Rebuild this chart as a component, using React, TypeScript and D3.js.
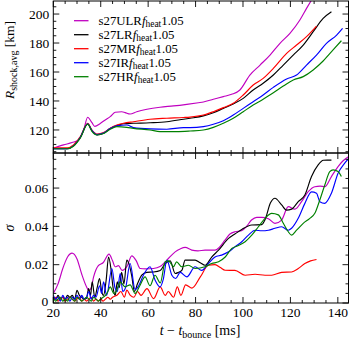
import React from "react";
import * as d3 from "d3";

// ---------- data ----------
const seriesNames = ["s27ULR", "s27LR", "s27MR", "s27IR", "s27HR"];
const seriesColors = ["#c000c0", "#000000", "#ff0000", "#0000ff", "#008000"];

const xTicks = [20, 40, 60, 80, 100, 120, 140];
const rTicks = [120, 140, 160, 180, 200];
const sTicks = [0, 0.02, 0.04, 0.06];
const sTickLabels = ["0", "0.02", "0.04", "0.06"];

// Shock radius [t, R]
const rULR: [number, number][] = [
  [20, 107.4], [24.3, 109.7], [27.9, 111.3], [30.7, 113.1], [32.8, 120], [34.5, 128.8], [36.3, 125],
  [37.5, 122.5], [39.8, 124.5], [41.9, 126.9], [44, 129.2], [46.1, 132.2], [48.9, 132.6], [50.3, 132],
  [52.4, 131], [55.2, 132.6], [59.5, 134.3], [65, 135.7], [70.7, 136.6], [76.3, 137.7], [81.2, 138.8],
  [83.3, 139.3], [87.5, 141.2], [91.7, 143], [95.2, 144.6], [98.7, 147.6], [102.9, 157.9], [107.2, 164.8],
  [111.4, 171.7], [115.6, 179.8], [119.8, 186.7], [124, 195.9], [126.8, 203.9], [129.2, 210.5],
];
const rLR: [number, number][] = [
  [20, 107], [25.8, 107], [28.5, 109], [31.4, 115], [34.5, 124.1], [36.3, 119.5], [38.4, 116.6],
  [41.2, 117.8], [44, 121], [46.8, 123], [49.6, 124.3], [53.8, 124.6], [60.8, 125], [67.9, 125.7],
  [74.9, 127.4], [77.7, 128.1], [83.3, 129.7], [87.5, 131.9], [91.7, 134.9], [95.9, 137.9], [100.1, 141.8],
  [104.3, 147.6], [108.5, 152.2], [112.8, 157.9], [117, 164.8], [121.2, 171.7], [125.4, 178.6],
  [129.6, 187.8], [133.8, 197], [137.3, 201.6],
];
const rMR: [number, number][] = [
  [20, 107.6], [25.8, 107.6], [28.5, 109.7], [31.4, 115.4], [34.5, 124.6], [36.3, 120], [38.4, 117.2],
  [41.2, 118.2], [44, 121.2], [46.8, 123.4], [49.6, 124.6], [53.8, 125.7], [60.8, 127.4], [67.9, 128.1],
  [74.9, 128.6], [77.7, 128.9], [83.3, 130.3], [87.5, 132.6], [91.7, 135.4], [95.9, 138.4], [100.1, 144.1],
  [104.3, 151], [108.5, 155.6], [112.8, 162.5], [118.4, 172.9], [122.6, 178.6], [126.8, 184.4], [131, 191.7],
];
const rIR: [number, number][] = [
  [20, 107], [25.8, 107], [28.5, 109], [31.4, 115], [34.5, 124.3], [36.3, 119.5], [38.4, 116.8],
  [41.2, 117.8], [44, 121], [46.8, 122.8], [51, 123.4], [53.8, 121.6], [60.8, 120.7], [67.9, 120.5],
  [74.9, 121.6], [77.7, 121.6], [83.3, 122.3], [87.5, 123.9], [91.7, 126.4], [95.9, 130.3], [100.1, 134.9],
  [104.3, 139.5], [108.5, 144.1], [112.8, 149.4], [118.4, 155.2], [122.6, 157.9], [126.8, 164.8],
  [131, 171.7], [135.2, 179.8], [139.5, 185.5], [142, 190.1],
];
const rHR: [number, number][] = [
  [20, 107], [25.8, 107], [28.5, 108.8], [31.4, 114.5], [34.5, 124], [36.3, 119], [38.4, 116.5],
  [41.2, 117.5], [44, 120.5], [46.8, 122.3], [51, 121.8], [53.8, 121.1], [60.8, 120], [65, 118.9],
  [72, 118.9], [77.7, 119.3], [83.3, 120], [87.5, 121.8], [91.7, 124.6], [95.9, 128.1], [100.1, 132.6],
  [104.3, 137.2], [108.5, 141.2], [112.8, 145.7], [117, 150.3], [121.2, 154.5], [125.4, 156.8],
  [129.6, 161.4], [133.8, 167.6], [138, 175.2], [141.5, 181.6],
];

// sigma [t, sigma]
const sULR: [number, number][] = [
  [20, 0.005], [22, 0.01], [24, 0.018], [26, 0.024], [27.9, 0.026], [30, 0.023], [32, 0.015], [34, 0.0085],
  [35, 0.0065], [36, 0.008], [37, 0.0136], [39, 0.0195], [41, 0.021], [43.5, 0.0255], [45, 0.022],
  [46.1, 0.0189], [47.5, 0.0195], [49, 0.017], [51, 0.019], [53.1, 0.0246], [55, 0.022], [56.6, 0.018],
  [59, 0.0178], [62.2, 0.018], [65, 0.019], [67.9, 0.0224], [71.4, 0.0267], [73.5, 0.0282], [75.6, 0.029],
  [78.4, 0.0276], [81, 0.0272], [84, 0.0276], [88.2, 0.0276], [90, 0.029], [92.4, 0.0328], [94.5, 0.036],
  [96.6, 0.0372], [99.4, 0.0377], [101.5, 0.04], [103.6, 0.0433], [105.8, 0.0447], [107.9, 0.0447],
  [110.7, 0.044], [113.5, 0.0416], [116.3, 0.0433], [119.1, 0.0503], [121.9, 0.049], [124.7, 0.0529],
  [127.5, 0.0581], [130.3, 0.0607], [132.5, 0.061], [134.5, 0.0607], [137.3, 0.066], [140.1, 0.0712],
  [142, 0.074], [144.6, 0.0765],
];
const sLR: [number, number][] = [
  [20, 0.003], [21, 0.002], [22, 0.004], [23, 0.002], [24, 0.003], [25, 0.002], [26, 0.004], [27, 0.003],
  [28, 0.004], [29, 0.002], [30, 0.0066], [31, 0.004], [32, 0.003], [33, 0.002], [34, 0.0025],
  [34.9, 0.0075], [35.7, 0.004], [36.4, 0.011], [37.5, 0.003], [38.5, 0.008], [39.5, 0.0128], [40.4, 0.006],
  [41.2, 0.004], [42.3, 0.012], [43.3, 0.024], [44.3, 0.018], [45.2, 0.008], [46.1, 0.004], [47, 0.011],
  [47.8, 0.008], [48.8, 0.016], [49.8, 0.01], [51, 0.0224], [52, 0.02], [53.1, 0.014], [54.2, 0.006],
  [55.5, 0.01], [57.3, 0.0145], [59.4, 0.016], [62.2, 0.0162], [65.1, 0.017], [67.2, 0.0206], [69.3, 0.022],
  [71.4, 0.0154], [72.8, 0.016], [74.2, 0.017], [75.6, 0.0224], [77.7, 0.0224], [79.8, 0.0224], [82, 0.021],
  [84, 0.0197], [86.8, 0.024], [89.7, 0.0276], [93.9, 0.0337], [96.6, 0.036], [99.5, 0.0384],
  [103.7, 0.0407], [107.9, 0.0409], [109.3, 0.0435], [111.6, 0.0523], [113.5, 0.0547], [116.3, 0.0512],
  [118.4, 0.0485], [120.5, 0.049], [123.3, 0.0529], [126.1, 0.0564], [128.9, 0.066], [131.7, 0.0721],
  [133.9, 0.0745], [135.5, 0.0746], [137.3, 0.0746],
];
const sMR: [number, number][] = [
  [20, 0.002], [21, 0.003], [22, 0.001], [23, 0.002], [24, 0.003], [25, 0.001], [26, 0.002], [27, 0.003],
  [28, 0.002], [29, 0.001], [30, 0.002], [31, 0.003], [32, 0.001], [33, 0.002], [34, 0.001], [35, 0.002],
  [36, 0.003], [37, 0.001], [38, 0.002], [39, 0.001], [40, 0.002], [41, 0.001], [42, 0.002], [43, 0.003],
  [44, 0.002], [45, 0.003], [46.8, 0.004], [48.5, 0.006], [50, 0.003], [51, 0.0067], [52.5, 0.004],
  [54, 0.003], [55.5, 0.006], [57, 0.004], [59.5, 0.0075], [62.3, 0.0023], [65.1, 0.0084], [67.2, 0.004],
  [68.5, 0.006], [70.7, 0.003], [72.3, 0.0084], [73.8, 0.004], [75.8, 0.0095], [78.5, 0.0078],
  [82, 0.0136], [85.4, 0.0197], [88.2, 0.02], [90.5, 0.0185], [92.5, 0.0171], [96.6, 0.017],
  [100.9, 0.0145], [105.1, 0.015], [109.3, 0.0145], [112.1, 0.0145], [116.3, 0.016], [120.5, 0.0162],
  [123.3, 0.018], [126.1, 0.0206], [128.5, 0.022], [131, 0.0227],
];
const sIR: [number, number][] = [
  [20, 0.004], [21, 0.002], [22, 0.003], [23, 0.001], [24, 0.004], [25, 0.002], [26, 0.003], [27, 0.001],
  [28, 0.003], [29, 0.002], [30, 0.004], [31, 0.002], [32, 0.004], [33, 0.002], [34, 0.003], [35, 0.006],
  [36, 0.002], [37, 0.004], [38, 0.003], [39.5, 0.009], [40.4, 0.005], [41.2, 0.011], [42.5, 0.004],
  [44.7, 0.018], [46, 0.008], [47, 0.006], [48.2, 0.0154], [49.3, 0.006], [50.5, 0.008], [52.4, 0.0206],
  [54.5, 0.007], [56, 0.009], [58, 0.0145], [60.8, 0.0189], [62.9, 0.012], [65, 0.0084], [66.4, 0.0125],
  [67.9, 0.0224], [70, 0.0145], [71.6, 0.0128], [73.5, 0.016], [76.3, 0.0136], [79.8, 0.0189],
  [82.6, 0.017], [85.4, 0.0206], [88.2, 0.024], [91, 0.025], [93.9, 0.0267], [96.6, 0.0293], [99.5, 0.032],
  [102.3, 0.0354], [105.1, 0.038], [107.9, 0.0377], [110.7, 0.038], [113.5, 0.039], [116.3, 0.0398],
  [119.1, 0.038], [120.5, 0.039], [123.3, 0.0442], [126.1, 0.052], [128.9, 0.058], [131, 0.0573],
  [132.4, 0.0529], [134.5, 0.052], [137.3, 0.0573], [140.1, 0.0677], [142.9, 0.073], [144.6, 0.0755],
];
const sHR: [number, number][] = [
  [20, 0.003], [21, 0.001], [22, 0.002], [23, 0.003], [24, 0.001], [25, 0.002], [26, 0.001], [27, 0.003],
  [28, 0.002], [29, 0.001], [30, 0.003], [31, 0.002], [32, 0.001], [33, 0.002], [34, 0.003], [35, 0.002],
  [36, 0.001], [37, 0.003], [38, 0.002], [39, 0.001], [40, 0.002], [41, 0.003], [42, 0.004], [43, 0.006],
  [44, 0.0084], [45.5, 0.005], [46.5, 0.006], [48.2, 0.011], [50.3, 0.0084], [52.4, 0.0095], [54.5, 0.005],
  [56.6, 0.0093], [58.7, 0.0136], [60.8, 0.009], [62.9, 0.0145], [65.1, 0.0105], [67.2, 0.0215],
  [68.6, 0.022], [70.7, 0.019], [72, 0.0215], [74.2, 0.0189], [77, 0.0197], [79.8, 0.018], [84, 0.0189],
  [86.8, 0.0206], [89.7, 0.0215], [92.5, 0.024], [95.3, 0.0285], [98.1, 0.03], [100.9, 0.032],
  [103.7, 0.0354], [106.5, 0.0398], [109.3, 0.0442], [112.1, 0.0468], [114.9, 0.046], [117, 0.0416],
  [119.1, 0.0372], [120.5, 0.0354], [122.6, 0.038], [125.4, 0.0416], [128.2, 0.0442], [130.3, 0.0468],
  [132.4, 0.0538], [134.5, 0.0616], [136.6, 0.0686], [138, 0.0695], [140.1, 0.0686], [141.5, 0.066],
];

const rData = [rULR, rLR, rMR, rIR, rHR];
const sData = [sULR, sLR, sMR, sIR, sHR];

// ---------- layout ----------
const W = 350;
const H = 341;
const left = 53.3;
const right = 348.5;
const topY = 1;
const midY = 153;
const botY = 303;
const FONT = "'Liberation Serif', 'DejaVu Serif', serif";

export default function App() {
  const x = d3.scaleLinear().domain([20, 144.5]).range([left, right]);
  const yR = d3.scaleLinear().domain([104.1, 209]).range([midY, topY]);
  const yS = d3.scaleLinear().domain([0, 0.0783]).range([botY, midY]);

  const lineR = d3
    .line<[number, number]>()
    .x((d) => x(d[0]))
    .y((d) => yR(d[1]))
    .curve(d3.curveMonotoneX);
  const lineS = d3
    .line<[number, number]>()
    .x((d) => x(d[0]))
    .y((d) => yS(d[1]))
    .curve(d3.curveMonotoneX);

  const xMinor = d3.range(20, 145, 5);
  const rMinor = d3.range(105, 210, 5);
  const sMinor = d3.range(0, 0.0781, 0.005);

  const tick = (key: string, x1: number, y1: number, x2: number, y2: number) => (
    <line key={key} x1={x1} y1={y1} x2={x2} y2={y2} stroke="#000" strokeWidth={0.9} />
  );

  const xTickMarks = (yTop: number, yBot: number, pfx: string) =>
    xMinor.map((t) => {
      const len = t % 20 === 0 ? 6 : 3;
      const px = x(t);
      return (
        <g key={pfx + t}>
          {tick("a", px, yTop, px, yTop + len)}
          {tick("b", px, yBot, px, yBot - len)}
        </g>
      );
    });

  const legendY = [20.7, 34.7, 48.7, 62.7, 76.7];

  return (
    <svg width={W} height={H} style={{ position: "absolute", left: 0, top: 0, background: "#fff" }} fontFamily={FONT}>
      <rect width={W} height={H} fill="#fff" />
      <defs>
        <clipPath id="clipTop">
          <rect x={left} y={topY} width={right - left} height={midY - topY} />
        </clipPath>
        <clipPath id="clipBot">
          <rect x={left} y={midY} width={right - left} height={botY - midY} />
        </clipPath>
      </defs>

      {/* lines */}
      <g clipPath="url(#clipTop)" fill="none" strokeWidth={1.15}>
        {rData.map((d, i) => (
          <path key={i} d={lineR(d) || ""} stroke={seriesColors[i]} />
        ))}
      </g>
      <g clipPath="url(#clipBot)" fill="none" strokeWidth={1.15}>
        {sData.map((d, i) => (
          <path key={i} d={lineS(d) || ""} stroke={seriesColors[i]} />
        ))}
      </g>

      {/* frames */}
      <rect x={left} y={topY} width={right - left} height={midY - topY} fill="none" stroke="#000" strokeWidth={1} />
      <rect x={left} y={midY} width={right - left} height={botY - midY} fill="none" stroke="#000" strokeWidth={1} />

      {/* x ticks */}
      {xTickMarks(topY, midY, "t")}
      {xTickMarks(midY, botY, "b")}

      {/* y ticks top */}
      {rMinor.map((v) => {
        const len = v % 20 === 0 ? 6 : 3;
        const py = yR(v);
        return (
          <g key={"r" + v}>
            {tick("a", left, py, left + len, py)}
            {tick("b", right, py, right - len, py)}
          </g>
        );
      })}
      {/* y ticks bottom */}
      {sMinor.map((v, i) => {
        const len = i % 4 === 0 ? 6 : 3;
        const py = yS(v);
        return (
          <g key={"s" + i}>
            {tick("a", left, py, left + len, py)}
            {tick("b", right, py, right - len, py)}
          </g>
        );
      })}

      {/* tick labels */}
      <g fontSize={13.5} fill="#000">
        {rTicks.map((v) => (
          <text key={"rl" + v} x={left - 4} y={yR(v)} dy="0.35em" textAnchor="end">
            {v}
          </text>
        ))}
        {sTicks.map((v, i) => (
          <text key={"sl" + v} x={left - 5} y={yS(v) - (v === 0 ? 1.5 : 0)} dy="0.35em" textAnchor="end">
            {sTickLabels[i]}
          </text>
        ))}
        {xTicks.map((v) => (
          <text key={"xl" + v} x={x(v)} y={316.5} textAnchor="middle">
            {v}
          </text>
        ))}
      </g>

      {/* axis labels */}
      <text transform={`translate(14,60) rotate(-90)`} textAnchor="middle" fontSize={13.5}>
        <tspan fontStyle="italic">R</tspan>
        <tspan fontSize={10} dy={3}>shock,avg</tspan>
        <tspan dy={-3}> [km]</tspan>
      </text>
      <text transform={`translate(14,228) rotate(-90)`} textAnchor="middle" fontSize={14} fontStyle="italic">
        σ
      </text>
      <text x={200} y={335} textAnchor="middle" fontSize={14}>
        <tspan fontStyle="italic">t</tspan>
        <tspan> − </tspan>
        <tspan fontStyle="italic">t</tspan>
        <tspan fontSize={10} dy={3}>bounce</tspan>
        <tspan dy={-3}> [ms]</tspan>
      </text>

      {/* legend */}
      {seriesNames.map((n, i) => (
        <g key={"lg" + i}>
          <line x1={74} x2={88.5} y1={legendY[i]} y2={legendY[i]} stroke={seriesColors[i]} strokeWidth={1.3} />
          <text x={98.5} y={legendY[i] + 4} fontSize={12.8}>
            {n}
            <tspan fontStyle="italic">f</tspan>
            <tspan fontSize={9.5} dy={2.5}>heat</tspan>
            <tspan dy={-2.5}>1.05</tspan>
          </text>
        </g>
      ))}
    </svg>
  );
}
